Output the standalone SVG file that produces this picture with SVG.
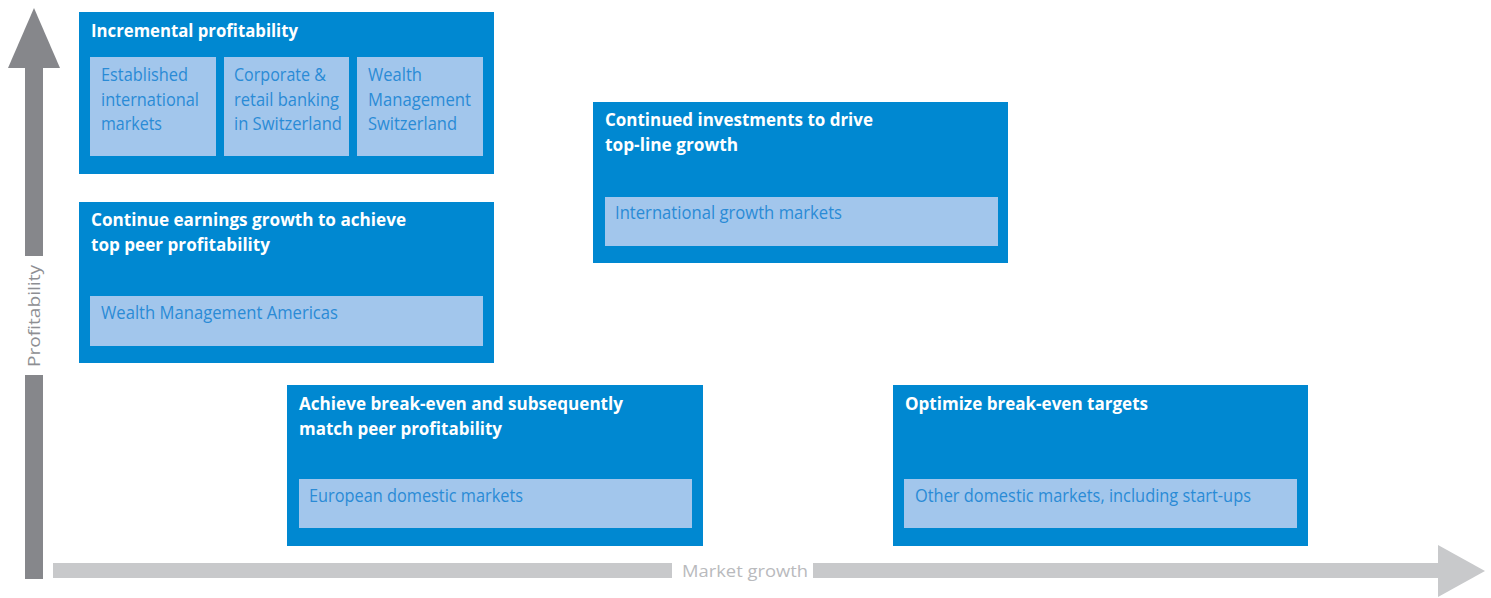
<svg xmlns="http://www.w3.org/2000/svg" width="1491" height="598" viewBox="0 0 1491 598">
<style>
.box{fill:#0088D1}
.sub{fill:#A2C6EC}
.t{font-family:"Open Sans","Noto Sans","Liberation Sans",sans-serif;font-weight:700;font-size:17px;fill:#FFFFFF}
.s{font-family:"Open Sans","Noto Sans","Liberation Sans",sans-serif;font-weight:400;font-size:18px;fill:#2A8BD6}
.ax{font-family:"Open Sans","Noto Sans","Liberation Sans",sans-serif;font-weight:400;font-size:17px}
</style>
<rect width="1491" height="598" fill="#FFFFFF"/>
<g id="axes">
  <g id="axis-profitability">
    <rect x="25" y="66" width="18" height="190" fill="#86878B"/>
    <rect x="25" y="375" width="18" height="204" fill="#86878B"/>
    <polygon points="34,8 60,68 8,68" fill="#86878B"/>
    <text class="ax" fill="#8E8F93" transform="translate(40,316) rotate(-90)" text-anchor="middle" textLength="102" lengthAdjust="spacingAndGlyphs">Profitability</text>
  </g>
  <g id="axis-market-growth">
    <rect x="53" y="563" width="619" height="15" fill="#C8C9CB"/>
    <rect x="813" y="563" width="627" height="15" fill="#C8C9CB"/>
    <polygon points="1438,545 1485,571 1438,597" fill="#C8C9CB"/>
    <text class="ax" fill="#B9BABD" x="682" y="577" textLength="126" lengthAdjust="spacingAndGlyphs">Market growth</text>
  </g>
</g>
<g id="node-incremental">
  <rect class="box" x="79" y="12" width="415" height="162"/>
  <text class="t" x="91" y="37" textLength="207" lengthAdjust="spacingAndGlyphs">Incremental profitability</text>
  <rect class="sub" x="90" y="57" width="126" height="99"/>
  <rect class="sub" x="224" y="57" width="125" height="99"/>
  <rect class="sub" x="357" y="57" width="126" height="99"/>
  <text class="s" x="101" y="81" textLength="87" lengthAdjust="spacingAndGlyphs">Established</text>
  <text class="s" x="101" y="106" textLength="98" lengthAdjust="spacingAndGlyphs">international</text>
  <text class="s" x="101" y="130" textLength="61" lengthAdjust="spacingAndGlyphs">markets</text>
  <text class="s" x="234" y="81" textLength="92" lengthAdjust="spacingAndGlyphs">Corporate &amp;</text>
  <text class="s" x="234" y="106" textLength="105" lengthAdjust="spacingAndGlyphs">retail banking</text>
  <text class="s" x="234" y="130" textLength="108" lengthAdjust="spacingAndGlyphs">in Switzerland</text>
  <text class="s" x="368" y="81" textLength="54" lengthAdjust="spacingAndGlyphs">Wealth</text>
  <text class="s" x="368" y="106" textLength="103" lengthAdjust="spacingAndGlyphs">Management</text>
  <text class="s" x="368" y="130" textLength="89" lengthAdjust="spacingAndGlyphs">Switzerland</text>
</g>
<g id="node-continue-earnings">
  <rect class="box" x="79" y="202" width="415" height="161"/>
  <text class="t" x="91" y="226" textLength="315" lengthAdjust="spacingAndGlyphs">Continue earnings growth to achieve</text>
  <text class="t" x="91" y="251" textLength="179" lengthAdjust="spacingAndGlyphs">top peer profitability</text>
  <rect class="sub" x="90" y="296" width="393" height="50"/>
  <text class="s" x="101" y="319" textLength="237" lengthAdjust="spacingAndGlyphs">Wealth Management Americas</text>
</g>
<g id="node-continued-investments">
  <rect class="box" x="593" y="102" width="415" height="161"/>
  <text class="t" x="605" y="126" textLength="268" lengthAdjust="spacingAndGlyphs">Continued investments to drive</text>
  <text class="t" x="605" y="151" textLength="133" lengthAdjust="spacingAndGlyphs">top-line growth</text>
  <rect class="sub" x="605" y="197" width="393" height="49"/>
  <text class="s" x="615" y="219" textLength="227" lengthAdjust="spacingAndGlyphs">International growth markets</text>
</g>
<g id="node-achieve-break-even">
  <rect class="box" x="287" y="385" width="416" height="161"/>
  <text class="t" x="299" y="410" textLength="324" lengthAdjust="spacingAndGlyphs">Achieve break-even and subsequently</text>
  <text class="t" x="299" y="435" textLength="203" lengthAdjust="spacingAndGlyphs">match peer profitability</text>
  <rect class="sub" x="299" y="479" width="393" height="49"/>
  <text class="s" x="309" y="502" textLength="214" lengthAdjust="spacingAndGlyphs">European domestic markets</text>
</g>
<g id="node-optimize-break-even">
  <rect class="box" x="893" y="385" width="415" height="161"/>
  <text class="t" x="905" y="410" textLength="243" lengthAdjust="spacingAndGlyphs">Optimize break-even targets</text>
  <rect class="sub" x="904" y="479" width="393" height="49"/>
  <text class="s" x="915" y="502" textLength="336" lengthAdjust="spacingAndGlyphs">Other domestic markets, including start-ups</text>
</g>
</svg>
